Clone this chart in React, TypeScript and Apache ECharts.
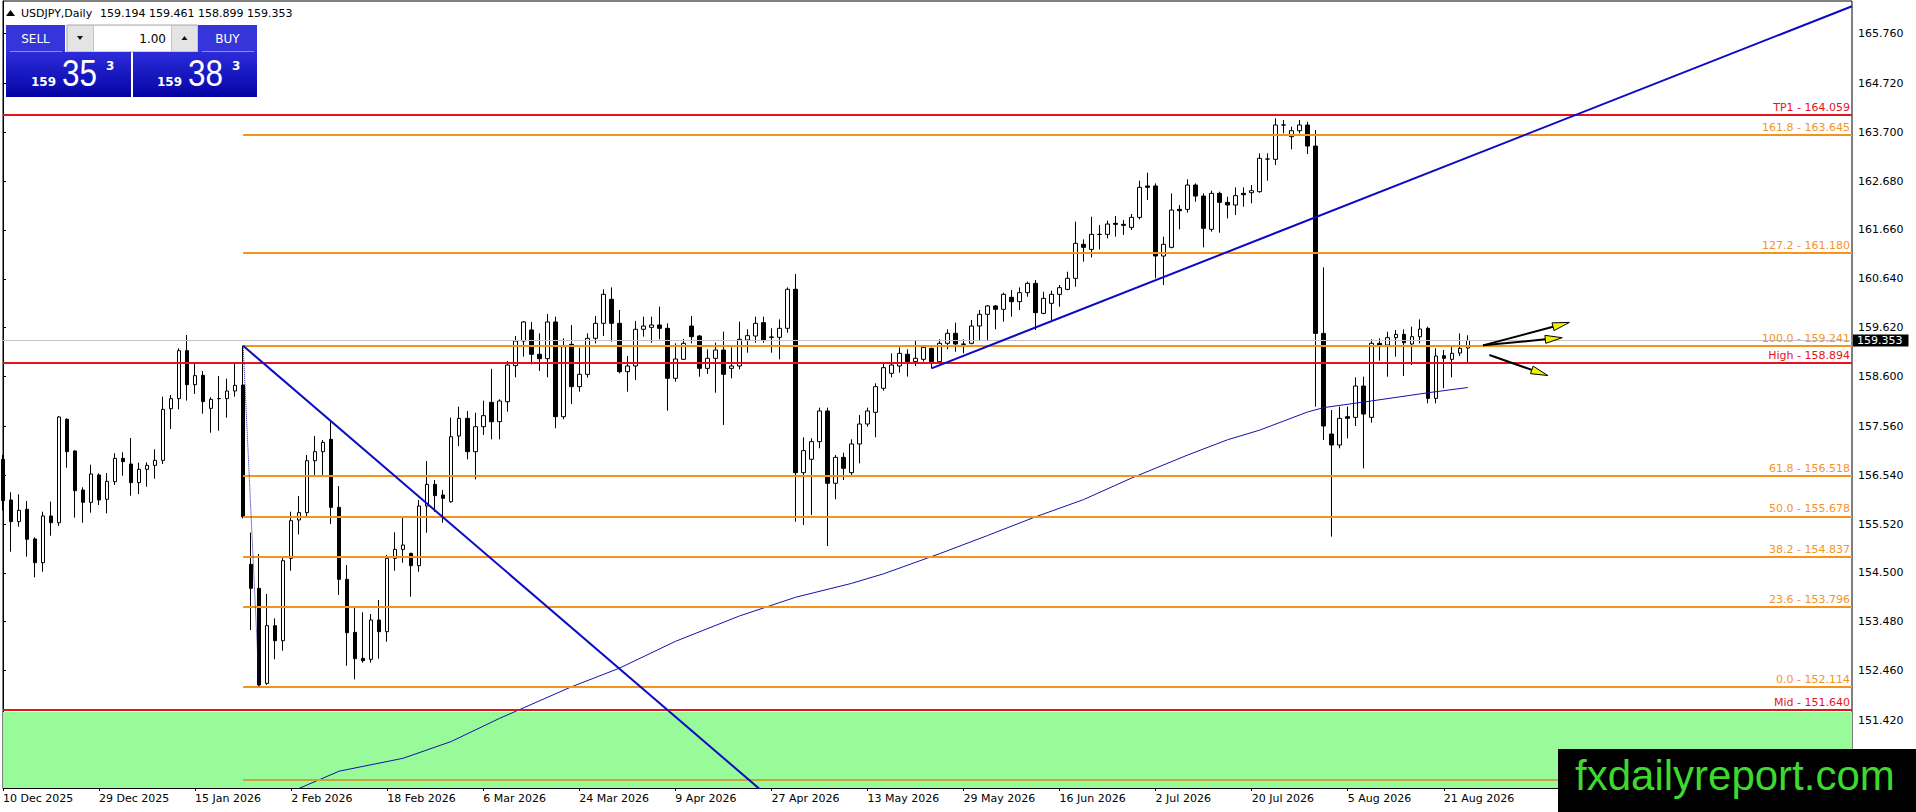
import { useEffect, useRef } from 'react';
import * as echarts from 'echarts';

const FONT = '"DejaVu Sans", sans-serif';

// trading days from 10 Dec 2025, one slot per bar (incl. the empty future area)
const FIRST_DAY = Date.UTC(2025, 11, 10);
const HOLIDAYS = ['2025-12-25', '2026-01-01'];
const SLOTS = 232;
const MONTHS = ['Jan', 'Feb', 'Mar', 'Apr', 'May', 'Jun', 'Jul', 'Aug', 'Sep', 'Oct', 'Nov', 'Dec'];

function buildDates() {
  const out: string[] = [];
  let t = FIRST_DAY;
  while (out.length < SLOTS) {
    const d = new Date(t);
    const iso = d.toISOString().slice(0, 10);
    const wd = d.getUTCDay();
    if (wd !== 0 && wd !== 6 && !HOLIDAYS.includes(iso)) {
      out.push(`${d.getUTCDate()} ${MONTHS[d.getUTCMonth()]} ${d.getUTCFullYear()}`);
    }
    t += 86400000;
  }
  return out;
}
const dates = buildDates();

// [open, high, low, close]
const ohlc = [
  [156.871, 156.961, 155.799, 156.008], [156.022, 156.182, 154.943, 155.569], [155.569, 156.14, 155.465, 155.806],
  [155.827, 156.001, 154.839, 155.201], [155.208, 155.242, 154.407, 154.713], [154.713, 155.778, 154.525, 155.688],
  [155.688, 155.987, 155.277, 155.548], [155.548, 157.775, 155.479, 157.754], [157.706, 157.727, 156.697, 157.031],
  [157.045, 157.06, 155.653, 156.216], [156.23, 156.286, 155.548, 155.973], [155.973, 156.759, 155.757, 156.564],
  [156.544, 156.578, 155.917, 156.022], [156.036, 156.585, 155.743, 156.411], [156.404, 156.996, 156.335, 156.891],
  [156.891, 157.017, 156.53, 156.822], [156.773, 157.316, 156.112, 156.384], [156.384, 156.801, 156.147, 156.662],
  [156.662, 156.808, 156.3, 156.745], [156.745, 157.079, 156.467, 156.85], [156.85, 158.179, 156.773, 157.914],
  [157.928, 158.214, 157.504, 158.137], [158.137, 159.188, 157.914, 159.139], [159.139, 159.466, 158.096, 158.429],
  [158.429, 158.875, 158.235, 158.617], [158.624, 158.715, 157.824, 158.075], [157.935, 158.165, 157.427, 158.123],
  [158.137, 158.61, 157.469, 158.14], [158.137, 158.555, 157.741, 158.297], [158.297, 158.889, 158.179, 158.416],
  [158.422, 159.241, 155.64, 155.674], [154.679, 155.34, 153.308, 154.178], [154.177, 154.894, 152.114, 152.159],
  [152.194, 154.059, 152.16, 153.398], [153.398, 153.55, 152.695, 153.084], [153.084, 154.824, 152.876, 154.754],
  [154.803, 155.777, 154.546, 155.59], [155.604, 156.105, 155.304, 155.757], [155.757, 156.961, 155.673, 156.842],
  [156.842, 157.357, 156.522, 157.03], [157.03, 157.274, 156.522, 157.225], [157.288, 157.656, 155.52, 155.868],
  [155.868, 156.313, 154.038, 154.365], [154.365, 154.664, 152.562, 153.251], [153.258, 153.773, 152.277, 152.709],
  [152.715, 153.676, 152.625, 152.667], [152.695, 153.641, 152.625, 153.516], [153.516, 153.933, 152.709, 153.272],
  [153.272, 154.873, 153.063, 154.803], [154.803, 155.346, 154.546, 154.991], [154.991, 155.659, 154.713, 155.082],
  [154.908, 154.92, 154.003, 154.65], [154.65, 156.021, 154.525, 155.896], [155.896, 156.835, 155.339, 156.348],
  [156.348, 156.439, 155.777, 156.112], [156.126, 156.23, 155.548, 156.056], [155.986, 157.74, 155.965, 157.343],
  [157.357, 157.97, 157.148, 157.726], [157.726, 157.879, 156.87, 157.03], [157.03, 157.844, 156.452, 157.552],
  [157.552, 158.095, 157.378, 157.782], [158.06, 158.76, 157.288, 157.656], [157.657, 158.123, 157.288, 158.088],
  [158.074, 158.924, 157.866, 158.84], [158.826, 159.445, 158.583, 159.341], [159.341, 159.759, 159.014, 159.738],
  [159.571, 159.738, 158.854, 159.063], [159.063, 159.501, 158.715, 158.972], [158.972, 159.905, 158.583, 159.738],
  [159.738, 159.849, 157.518, 157.761], [157.761, 159.397, 157.706, 159.223], [159.271, 159.675, 158.026, 158.388],
  [158.388, 159.202, 158.283, 158.645], [158.645, 159.501, 158.576, 159.397], [159.397, 159.863, 159.292, 159.71],
  [159.71, 160.42, 159.445, 160.315], [160.211, 160.461, 159.327, 159.71], [159.71, 159.988, 158.666, 158.701],
  [158.701, 159.028, 158.283, 158.819], [158.819, 159.759, 158.527, 159.585], [159.585, 159.849, 159.432, 159.654],
  [159.626, 159.849, 159.306, 159.675], [159.675, 160.058, 159.376, 159.605], [159.605, 159.71, 157.886, 158.562],
  [158.562, 159.292, 158.492, 158.965], [158.958, 159.383, 158.944, 159.292], [159.654, 159.863, 159.292, 159.431],
  [159.445, 159.466, 158.596, 158.77], [158.77, 159.167, 158.652, 158.979], [158.979, 159.306, 158.262, 159.153],
  [159.153, 159.536, 157.588, 158.645], [158.77, 159.209, 158.562, 158.819], [158.819, 159.745, 158.749, 159.376],
  [159.362, 159.585, 159.097, 159.453], [159.445, 159.849, 159.306, 159.71], [159.724, 159.849, 159.306, 159.362],
  [159.424, 159.606, 159.097, 159.418], [159.418, 159.793, 158.958, 159.606], [159.606, 160.461, 159.515, 160.42],
  [160.42, 160.74, 155.569, 156.592], [156.592, 157.33, 155.5, 157.052], [156.871, 157.309, 155.708, 157.24],
  [157.24, 157.95, 157.1, 157.88], [157.88, 157.95, 155.061, 156.37], [156.37, 156.961, 156.036, 156.912],
  [156.912, 157.01, 156.439, 156.683], [156.592, 157.288, 156.543, 157.191], [157.191, 157.796, 156.787, 157.608],
  [157.608, 157.95, 157.553, 157.88], [157.852, 158.457, 157.33, 158.388], [158.353, 158.875, 158.304, 158.784],
  [158.666, 159.083, 158.583, 158.84], [158.819, 159.209, 158.68, 159.083], [159.063, 159.167, 158.597, 158.91],
  [158.91, 159.362, 158.819, 158.979], [158.958, 159.258, 158.91, 159.209], [159.188, 159.2, 158.77, 158.91],
  [158.91, 159.376, 158.875, 159.292], [159.292, 159.585, 159.167, 159.501], [159.501, 159.724, 159.118, 159.278],
  [159.278, 159.376, 159.083, 159.271], [159.292, 159.779, 159.271, 159.654], [159.654, 159.988, 159.362, 159.898],
  [159.898, 160.093, 159.362, 160.072], [160.072, 160.093, 159.585, 160.002], [160.002, 160.35, 159.745, 160.315],
  [160.252, 160.405, 159.848, 160.162], [160.162, 160.461, 159.988, 160.35], [160.35, 160.579, 160.266, 160.544],
  [160.544, 160.614, 159.57, 159.932], [159.918, 160.37, 159.9, 160.231], [160.127, 160.391, 159.744, 160.315],
  [160.315, 160.51, 160.057, 160.454], [160.419, 160.788, 160.4, 160.649], [160.649, 161.832, 160.475, 161.38],
  [161.359, 161.463, 160.997, 161.296], [161.254, 161.936, 161.087, 161.567], [161.567, 161.762, 161.254, 161.567],
  [161.567, 161.853, 161.484, 161.783], [161.797, 161.95, 161.519, 161.776], [161.776, 161.867, 161.554, 161.755],
  [161.713, 161.992, 161.658, 161.922], [161.922, 162.688, 161.88, 162.549], [162.577, 162.855, 162.284, 162.549],
  [162.577, 162.632, 160.649, 161.115], [161.115, 161.519, 160.51, 161.359], [161.296, 162.423, 161.275, 162.075],
  [162.089, 162.18, 161.672, 162.061], [162.089, 162.716, 162.02, 162.597], [162.597, 162.632, 162.249, 162.367],
  [162.367, 162.423, 161.296, 161.693], [161.672, 162.479, 161.623, 162.423], [162.423, 162.458, 161.602, 162.235],
  [162.235, 162.354, 161.901, 162.18], [162.18, 162.548, 161.971, 162.375], [162.423, 162.548, 162.145, 162.395],
  [162.437, 162.597, 162.215, 162.479], [162.458, 163.258, 162.437, 163.154], [163.14, 163.258, 162.688, 163.14],
  [163.133, 163.989, 163.015, 163.85], [163.85, 163.954, 163.676, 163.85], [163.606, 163.815, 163.342, 163.731],
  [163.731, 163.954, 163.676, 163.85], [163.85, 163.919, 163.244, 163.411], [163.411, 163.745, 157.97, 159.5],
  [159.5, 160.878, 157.274, 157.566], [157.399, 157.9, 155.256, 157.17], [157.17, 157.97, 157.1, 157.726],
  [157.761, 157.97, 157.309, 157.726], [157.747, 158.582, 157.566, 158.401], [158.401, 158.596, 156.682, 157.816],
  [157.747, 159.375, 157.636, 159.292], [159.292, 159.396, 158.93, 159.257], [159.257, 159.535, 158.596, 159.41],
  [159.41, 159.57, 159.013, 159.48], [159.48, 159.584, 158.61, 159.306], [159.278, 159.64, 158.84, 159.431],
  [159.431, 159.793, 159.292, 159.591], [159.605, 159.64, 158.039, 158.143], [158.143, 159.188, 158.039, 159.027],
  [159.034, 159.153, 158.352, 158.979], [158.958, 159.222, 158.582, 159.083], [159.09, 159.5, 159.027, 159.188],
  [159.194, 159.461, 158.899, 159.353],
];

// moving average, read at sample bars: [bar, price]
const maPoints = [
  [36, 149.93], [42, 150.36], [50, 150.63], [56, 150.98], [62, 151.46], [71, 152.12], [77, 152.51],
  [84, 153.07], [92, 153.6], [99, 153.99], [106, 154.28], [110, 154.48], [117, 154.9], [123, 155.28],
  [129, 155.67], [135, 156.03], [141, 156.48], [148, 156.96], [153, 157.28], [157, 157.48], [163, 157.86],
  [165, 157.95], [171, 158.09], [178, 158.26], [183, 158.37],
];

const priceTicks = [151.42, 152.46, 153.48, 154.5, 155.52, 156.54, 157.56, 158.6, 159.62, 160.64, 161.66, 162.68, 163.7, 164.72, 165.76];

const FIB_START = 30;
const fibLevels = [
  { name: '161.8', value: 163.645 },
  { name: '127.2', value: 161.18 },
  { name: '100.0', value: 159.241 },
  { name: '61.8', value: 156.518 },
  { name: '50.0', value: 155.678 },
  { name: '38.2', value: 154.837 },
  { name: '23.6', value: 153.796 },
  { name: '0.0', value: 152.114 },
  { name: '-27.2', value: 150.175 },
];
const redLevels = [
  { name: 'TP1', value: 164.059 },
  { name: 'High', value: 158.894 },
  { name: 'Mid', value: 151.64 },
];
const bid = 159.353;
const zone = [151.595, 150.009];

const trendDown = [[30, 159.241], [95, 149.92]];
const trendUp = [[116, 158.77], [231, 166.33]];
const fibAnchor = [[30, 159.241], [32, 152.114]];
// [fromBar, fromPrice, toBar, toPrice]
const arrows = [
  [184.9, 159.25, 195.7, 159.73],
  [184.9, 159.25, 194.8, 159.41],
  [185.7, 159.05, 193.0, 158.62],
];

const Y_MIN = 150.009;
const Y_MAX = 166.439;
const ORANGE = '#f5931f';
const RED = '#e3141d';
const LINE_BLUE = '#0b0bc4';

function panelGraphics() {
  const head = '#3535da';
  const body = new echarts.graphic.LinearGradient(0, 0, 0, 1, [
    { offset: 0, color: '#2c2cdb' },
    { offset: 1, color: '#0404a4' },
  ]);
  const white = '#ffffff';
  const price = (x0: number, big: string) => [
    { type: 'text', x: x0, y: 82, style: { text: '159', fill: white, font: `bold 12px ${FONT}`, verticalAlign: 'middle' } },
    { type: 'text', x: x0 + 31, y: 73.5, scaleX: 0.85, style: { text: big, fill: white, font: '37px "Liberation Sans", sans-serif', verticalAlign: 'middle' } },
    { type: 'text', x: x0 + 75, y: 66, style: { text: '3', fill: white, font: `bold 12px ${FONT}`, verticalAlign: 'middle' } },
  ];
  return [
    { type: 'rect', shape: { x: 6, y: 25, width: 59, height: 27 }, style: { fill: head } },
    { type: 'text', x: 35.5, y: 38.5, style: { text: 'SELL', fill: white, font: `12px ${FONT}`, align: 'center', verticalAlign: 'middle' } },
    { type: 'line', shape: { x1: 10, y1: 51.5, x2: 62, y2: 51.5 }, style: { stroke: '#8a8af2', lineWidth: 1 } },
    { type: 'rect', shape: { x: 67, y: 25, width: 131, height: 27 }, style: { fill: '#f3f3f3', stroke: '#a8a8a8' } },
    { type: 'rect', shape: { x: 67.5, y: 25.5, width: 26, height: 26 }, style: { fill: '#e4e4e4', stroke: '#c4c4c4' } },
    { type: 'polygon', shape: { points: [[77, 36], [83, 36], [80, 40]] }, style: { fill: '#111' } },
    { type: 'rect', shape: { x: 94, y: 26, width: 77, height: 25 }, style: { fill: '#ffffff' } },
    { type: 'text', x: 166, y: 38.5, style: { text: '1.00', fill: '#000', font: `12px ${FONT}`, align: 'right', verticalAlign: 'middle' } },
    { type: 'rect', shape: { x: 171.5, y: 25.5, width: 26, height: 26 }, style: { fill: '#e4e4e4', stroke: '#c4c4c4' } },
    { type: 'polygon', shape: { points: [[181.5, 40], [187.5, 40], [184.5, 36]] }, style: { fill: '#111' } },
    { type: 'rect', shape: { x: 198, y: 25, width: 59, height: 27 }, style: { fill: head } },
    { type: 'text', x: 227.5, y: 38.5, style: { text: 'BUY', fill: white, font: `12px ${FONT}`, align: 'center', verticalAlign: 'middle' } },
    { type: 'line', shape: { x1: 202, y1: 51.5, x2: 254, y2: 51.5 }, style: { stroke: '#8a8af2', lineWidth: 1 } },
    { type: 'rect', shape: { x: 6, y: 52, width: 125, height: 45 }, style: { fill: body } },
    { type: 'rect', shape: { x: 133, y: 52, width: 124, height: 45 }, style: { fill: body } },
    ...price(31, '35'),
    ...price(157, '38'),
  ];
}

export default function App() {
  const chartRef = useRef<HTMLDivElement>(null);

  useEffect(() => {
    if (!chartRef.current) return;
    document.body.style.margin = '0';
    const chart = echarts.init(chartRef.current, null, { renderer: 'svg' });

    const lastBar = ohlc.length - 1;
    const showDate = (i: number) => i % 12 === 0 && i <= lastBar;

    // the -27.2 label sits under the watermark box, so it is not drawn
    const fibLines = fibLevels.map((f) => [
      {
        coord: [FIB_START, f.value],
        lineStyle: { color: f.value < zone[0] ? '#cda23c' : ORANGE, width: 2, type: 'solid' },
        label: { show: f.value > zone[0], formatter: `${f.name} - ${f.value.toFixed(3)}`, color: ORANGE },
      },
      { coord: [SLOTS - 1, f.value] },
    ]);
    const redLines = redLevels.map((r) => ({
      yAxis: r.value,
      lineStyle: { color: RED, width: 2, type: 'solid' },
      label: { formatter: `${r.name} - ${r.value.toFixed(3)}`, color: RED },
    }));

    const option: any = {
      animation: false,
      backgroundColor: '#ffffff',
      textStyle: { fontFamily: FONT },
      grid: { left: 3, right: 64, top: 1, bottom: 24, show: true, borderColor: '#000', borderWidth: 1, backgroundColor: '#fff' },
      xAxis: [
        {
          type: 'category',
          data: dates,
          boundaryGap: false,
          axisLine: { lineStyle: { color: '#000', width: 1 } },
          axisTick: { show: true, interval: (i: number) => showDate(i), length: 3, lineStyle: { color: '#000' } },
          axisLabel: { interval: (i: number) => showDate(i), align: 'left', margin: 5, fontSize: 11, color: '#000', fontFamily: FONT },
          splitLine: { show: false },
        },
        { type: 'value', min: 0, max: SLOTS - 1, show: false },
      ],
      yAxis: {
        type: 'value',
        position: 'right',
        min: Y_MIN,
        max: Y_MAX,
        scale: true,
        splitLine: { show: false },
        axisLine: { show: true, lineStyle: { color: '#000', width: 1 } },
        axisTick: { show: true, length: 3, customValues: priceTicks, lineStyle: { color: '#000' } },
        axisLabel: {
          customValues: priceTicks,
          formatter: (v: number) => v.toFixed(3),
          fontSize: 11,
          color: '#000',
          fontFamily: FONT,
          margin: 6,
        },
      },
      graphic: {
        elements: [
          { type: 'polygon', z: 100, shape: { points: [[6, 16], [10.5, 10], [15, 16]] }, style: { fill: '#000' } },
          { type: 'text', z: 100, x: 21, y: 13, style: { text: 'USDJPY,Daily', fill: '#000', font: `11px ${FONT}`, verticalAlign: 'middle' } },
          { type: 'text', z: 100, x: 100, y: 13, style: { text: '159.194 159.461 158.899 159.353', fill: '#000', font: `11px ${FONT}`, verticalAlign: 'middle' } },
          ...panelGraphics().map((e: any) => ({ ...e, z: 100 })),
          { type: 'rect', z: 100, shape: { x: 1558, y: 749, width: 358, height: 63 }, style: { fill: '#000' } },
          { type: 'text', z: 101, x: 1575, y: 775, style: { text: 'fxdailyreport.com', fill: '#3dd92d', font: '42px "Liberation Sans", Arial, sans-serif', verticalAlign: 'middle' } },
        ],
      },
      series: [
        {
          name: 'zone',
          type: 'line',
          data: [],
          z: 1,
          markArea: {
            silent: true,
            itemStyle: { color: '#98fa98' },
            data: [[{ yAxis: zone[0] }, { yAxis: zone[1] }]],
          },
        },
        {
          name: 'USDJPY',
          type: 'candlestick',
          z: 2,
          barWidth: 4,
          data: ohlc.map(([o, h, l, c]) => [o, c, l, h]),
          itemStyle: { color: '#ffffff', color0: '#000000', borderColor: '#000000', borderColor0: '#000000', borderWidth: 1 },
        },
        {
          name: 'MA',
          type: 'line',
          xAxisIndex: 1,
          z: 3,
          data: maPoints,
          showSymbol: false,
          smooth: false,
          lineStyle: { color: '#1212aa', width: 1 },
        },
        {
          name: 'levels',
          type: 'line',
          xAxisIndex: 1,
          z: 4,
          data: [],
          markLine: {
            silent: true,
            symbol: ['none', 'none'],
            label: { position: 'insideEndTop', distance: 2, fontSize: 11, fontFamily: FONT },
            data: [
              ...fibLines,
              ...redLines,
              {
                yAxis: bid,
                lineStyle: { color: '#c4c4c4', width: 1, type: 'solid' },
                label: {
                  position: 'end',
                  distance: 1,
                  formatter: bid.toFixed(3),
                  color: '#fff',
                  backgroundColor: '#000',
                  padding: [1, 6, 0, 4],
                },
              },
            ],
          },
        },
        {
          name: 'trendDown',
          type: 'line',
          xAxisIndex: 1,
          z: 5,
          data: trendDown,
          showSymbol: false,
          lineStyle: { color: LINE_BLUE, width: 2 },
        },
        {
          name: 'trendUp',
          type: 'line',
          xAxisIndex: 1,
          z: 5,
          data: trendUp,
          showSymbol: false,
          lineStyle: { color: LINE_BLUE, width: 2 },
        },
        {
          name: 'fibAnchor',
          type: 'line',
          xAxisIndex: 1,
          z: 5,
          data: fibAnchor,
          showSymbol: false,
          lineStyle: { color: '#12128c', width: 1, type: 'dotted' },
        },
        {
          name: 'arrows',
          type: 'custom',
          xAxisIndex: 1,
          z: 6,
          data: arrows,
          encode: { x: [0, 2], y: [1, 3] },
          renderItem: (_params: any, api: any) => {
            const a = api.coord([api.value(0), api.value(1)]);
            const b = api.coord([api.value(2), api.value(3)]);
            const dx = b[0] - a[0];
            const dy = b[1] - a[1];
            const len = Math.sqrt(dx * dx + dy * dy);
            const ux = dx / len;
            const uy = dy / len;
            const headLen = 17;
            const halfW = 4;
            const bx = b[0] - ux * headLen;
            const by = b[1] - uy * headLen;
            return {
              type: 'group',
              children: [
                { type: 'line', shape: { x1: a[0], y1: a[1], x2: bx, y2: by }, style: { stroke: '#000', lineWidth: 2 } },
                {
                  type: 'polygon',
                  shape: { points: [[b[0], b[1]], [bx - uy * halfW, by + ux * halfW], [bx + uy * halfW, by - ux * halfW]] },
                  style: { fill: '#f0f000', stroke: '#000', lineWidth: 1 },
                },
              ],
            };
          },
        },
      ],
    };

    chart.setOption(option);

    return () => {
      chart.dispose();
    };
  }, []);

  return <div ref={chartRef} style={{ position: 'fixed', left: 0, top: 0, width: 1916, height: 812 }} />;
}
